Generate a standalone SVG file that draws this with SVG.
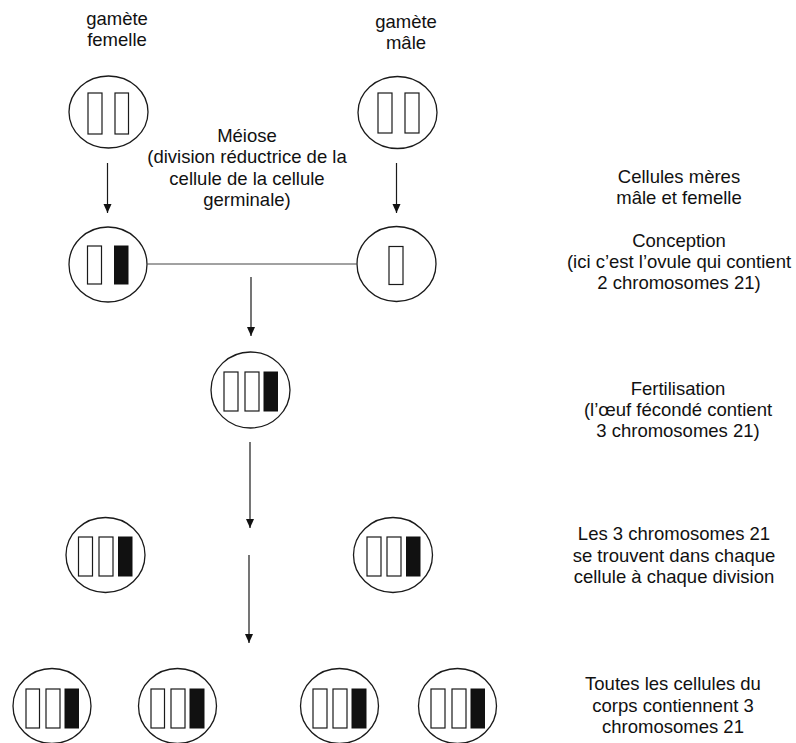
<svg xmlns="http://www.w3.org/2000/svg" width="796" height="743" viewBox="0 0 796 743">
<defs>
<style>
.cell{fill:#fff;stroke:#1a1a1a;stroke-width:1.3}
.chr{fill:#fff;stroke:#1a1a1a;stroke-width:1.2}
.chrd{fill:#111;stroke:#111;stroke-width:1}
.lbl{font-family:"Liberation Sans",Arial,sans-serif;font-size:18.5px;fill:#111;text-anchor:middle}
.conn{stroke:#1a1a1a;stroke-width:1.2;fill:none}
.thin{stroke:#444;stroke-width:1;fill:none}
</style>
<marker id="ah" markerUnits="userSpaceOnUse" markerWidth="10" markerHeight="9" refX="9" refY="4" orient="auto">
<path d="M0,0 L9,4 L0,8 z" fill="#111"/>
</marker>
</defs>
<rect width="796" height="743" fill="#fff"/>

<g id="connectors">
<line class="conn" x1="107.5" y1="163" x2="107.5" y2="213" marker-end="url(#ah)"/>
<line class="conn" x1="396.5" y1="163" x2="396.5" y2="213" marker-end="url(#ah)"/>
<line class="thin" x1="147.5" y1="264" x2="356.5" y2="264"/>
<line class="conn" x1="251" y1="277" x2="251" y2="336" marker-end="url(#ah)"/>
<line class="conn" x1="250" y1="442" x2="250" y2="528" marker-end="url(#ah)"/>
<line class="conn" x1="249" y1="555" x2="249" y2="643" marker-end="url(#ah)"/>
</g>

<g id="label-gamete-femelle">
<text class="lbl" x="117" y="25">gamète</text>
<text class="lbl" x="117" y="46">femelle</text>
</g>
<g id="label-gamete-male">
<text class="lbl" x="406" y="28">gamète</text>
<text class="lbl" x="406" y="49">mâle</text>
</g>

<g id="cell-mother-female">
<ellipse class="cell" cx="108.5" cy="112" rx="39.5" ry="36"/>
<rect class="chr" x="88" y="93" width="14" height="41"/>
<rect class="chr" x="115" y="93" width="13.5" height="41"/>
</g>
<g id="cell-mother-male">
<ellipse class="cell" cx="397.5" cy="112.5" rx="39.5" ry="36"/>
<rect class="chr" x="378" y="93" width="14" height="40"/>
<rect class="chr" x="405" y="93" width="14" height="40"/>
</g>

<g id="label-meiose">
<text class="lbl" x="247" y="142">Méiose</text>
<text class="lbl" x="247" y="163">(division réductrice de la</text>
<text class="lbl" x="247" y="184.5">cellule de la cellule</text>
<text class="lbl" x="247" y="205.5">germinale)</text>
</g>

<g id="cell-ovule">
<ellipse class="cell" cx="108" cy="264.5" rx="39" ry="37.5"/>
<rect class="chr" x="87.5" y="246" width="14" height="38"/>
<rect class="chrd" x="114.5" y="246" width="13.5" height="38"/>
</g>
<g id="cell-sperm">
<ellipse class="cell" cx="396.5" cy="264" rx="39.5" ry="37.5"/>
<rect class="chr" x="389" y="246.5" width="14" height="38"/>
</g>

<g id="cell-zygote">
<ellipse class="cell" cx="250.5" cy="390" rx="39.5" ry="38"/>
<rect class="chr" x="224" y="372" width="14" height="39"/>
<rect class="chr" x="245" y="372" width="14" height="39"/>
<rect class="chrd" x="264" y="372" width="13.5" height="39"/>
</g>

<g id="cell-div1-left">
<ellipse class="cell" cx="105.5" cy="555" rx="39.5" ry="37.5"/>
<rect class="chr" x="78.5" y="537" width="14" height="39"/>
<rect class="chr" x="99" y="537" width="14" height="39"/>
<rect class="chrd" x="118.5" y="537" width="13.5" height="39"/>
</g>
<g id="cell-div1-right">
<ellipse class="cell" cx="393" cy="555" rx="39.5" ry="37.5"/>
<rect class="chr" x="367" y="537" width="14" height="39"/>
<rect class="chr" x="387" y="537" width="14" height="39"/>
<rect class="chrd" x="406.5" y="537" width="13.5" height="39"/>
</g>

<g id="cell-div2-1">
<ellipse class="cell" cx="52" cy="706" rx="39" ry="37.5"/>
<rect class="chr" x="26" y="689" width="13.5" height="39"/>
<rect class="chr" x="46" y="689" width="14" height="39"/>
<rect class="chrd" x="65" y="689" width="13.5" height="39"/>
</g>
<g id="cell-div2-2">
<ellipse class="cell" cx="177.5" cy="706" rx="39" ry="37.5"/>
<rect class="chr" x="151" y="689" width="13.5" height="39"/>
<rect class="chr" x="171" y="689" width="14" height="39"/>
<rect class="chrd" x="190" y="689" width="14" height="39"/>
</g>
<g id="cell-div2-3">
<ellipse class="cell" cx="339.5" cy="706" rx="39" ry="37.5"/>
<rect class="chr" x="313" y="689" width="14" height="39"/>
<rect class="chr" x="333" y="689" width="14" height="39"/>
<rect class="chrd" x="352" y="689" width="14" height="39"/>
</g>
<g id="cell-div2-4">
<ellipse class="cell" cx="457.5" cy="706" rx="39" ry="37.5"/>
<rect class="chr" x="431" y="689" width="14" height="39"/>
<rect class="chr" x="452" y="689" width="14" height="39"/>
<rect class="chrd" x="471" y="689" width="13.5" height="39"/>
</g>

<g id="label-cellules-meres">
<text class="lbl" x="679" y="183">Cellules mères</text>
<text class="lbl" x="679" y="204">mâle et femelle</text>
</g>
<g id="label-conception">
<text class="lbl" x="679" y="247">Conception</text>
<text class="lbl" x="679" y="268">(ici c’est l’ovule qui contient</text>
<text class="lbl" x="679" y="289">2 chromosomes 21)</text>
</g>
<g id="label-fertilisation">
<text class="lbl" x="678" y="395">Fertilisation</text>
<text class="lbl" x="678" y="416">(l’œuf fécondé contient</text>
<text class="lbl" x="678" y="437">3 chromosomes 21)</text>
</g>
<g id="label-division">
<text class="lbl" x="674" y="540">Les 3 chromosomes 21</text>
<text class="lbl" x="674" y="561.5">se trouvent dans chaque</text>
<text class="lbl" x="674" y="583">cellule à chaque division</text>
</g>
<g id="label-toutes">
<text class="lbl" x="673" y="690">Toutes les cellules du</text>
<text class="lbl" x="673" y="711.5">corps contiennent 3</text>
<text class="lbl" x="673" y="733">chromosomes 21</text>
</g>
</svg>
